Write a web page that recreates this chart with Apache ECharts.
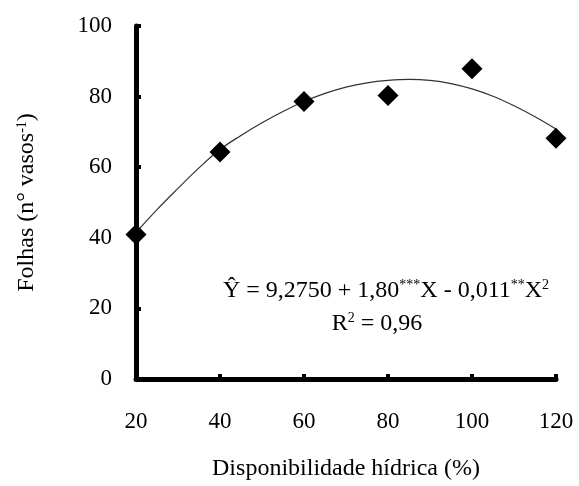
<!DOCTYPE html>
<html>
<head>
<meta charset="utf-8">
<script src="https://cdn.jsdelivr.net/npm/echarts@6/dist/echarts.min.js"></script>
<style>
  html, body { margin: 0; padding: 0; background: #fff; }
  #chart { width: 579px; height: 486px; }
</style>
</head>
<body>
<div id="chart"></div>
<script>
// disponibilidade hídrica (%) e folhas observadas
const waterLevels = [20, 40, 60, 80, 100, 120];
const leaves = [40.9, 64.3, 78.6, 80.3, 87.9, 68.2];

// curva ajustada
const curveX = [20, 25, 30, 35, 40, 45, 50, 55, 60, 65, 70, 75, 80, 85, 90, 95, 100, 105, 110, 115, 120];
const curveY = [41.5, 48, 54, 59.8, 65, 69, 72.6, 75.8, 78.6, 80.9, 82.7, 83.9, 84.6, 84.9, 84.6, 83.7, 82.2, 80.1, 77.4, 74.3, 70.8];

const serif = '"Liberation Serif", "Times New Roman", serif';

// expoente: um pouco acima do meio da linha
const supStyle = { fontFamily: serif, fontSize: 14, color: '#000', fill: '#000', verticalAlign: 'middle', padding: [0, 0, 10, 0] };

const chart = echarts.init(document.getElementById('chart'));

chart.setOption({
  animation: false,
  backgroundColor: '#fff',
  grid: { left: 136, right: 23, top: 26, bottom: 101 },
  xAxis: {
    type: 'value',
    min: 20,
    max: 120,
    interval: 20,
    name: 'Disponibilidade hídrica (%)',
    nameLocation: 'middle',
    nameGap: 78,
    nameTextStyle: { fontFamily: serif, fontSize: 24, color: '#000' },
    axisLine: { lineStyle: { color: '#000', width: 5 } },
    axisTick: { inside: true, length: 5, lineStyle: { color: '#000', width: 4 } },
    axisLabel: { margin: 31, fontFamily: serif, fontSize: 23, color: '#000' },
    splitLine: { show: false }
  },
  yAxis: {
    type: 'value',
    min: 0,
    max: 100,
    interval: 20,
    name: 'Folhas (n° vasos{sup|-1})',
    nameLocation: 'middle',
    nameRotate: 90,
    nameGap: 97,
    nameTextStyle: {
      fontFamily: serif, fontSize: 24, color: '#000',
      rich: { sup: supStyle }
    },
    axisLine: { show: true, lineStyle: { color: '#000', width: 5 } },
    axisTick: { show: true, inside: true, length: 5, lineStyle: { color: '#000', width: 4 } },
    axisLabel: { margin: 24, fontFamily: serif, fontSize: 23, color: '#000' },
    splitLine: { show: false }
  },
  graphic: [
    {
      type: 'text',
      x: 386,
      y: 274,
      style: {
        text: 'Ŷ = 9,2750 + 1,80{sup|***}X - 0,011{sup|**}X{sup|2}\nR{sup|2} = 0,96{pad|}',
        fontFamily: serif,
        fontSize: 24,
        lineHeight: 33,
        align: 'center',
        fill: '#000',
        rich: {
          sup: supStyle,
          pad: { width: 18 }
        }
      }
    }
  ],
  series: [
    {
      type: 'line',
      data: curveX.map((x, i) => [x, curveY[i]]),
      smooth: 0.4,
      showSymbol: false,
      lineStyle: { color: '#333', width: 1.2 },
      z: 2
    },
    {
      type: 'scatter',
      data: waterLevels.map((x, i) => [x, leaves[i]]),
      symbol: 'diamond',
      symbolSize: [21, 21],
      itemStyle: { color: '#000', opacity: 1 },
      z: 3
    }
  ]
});
</script>
</body>
</html>
